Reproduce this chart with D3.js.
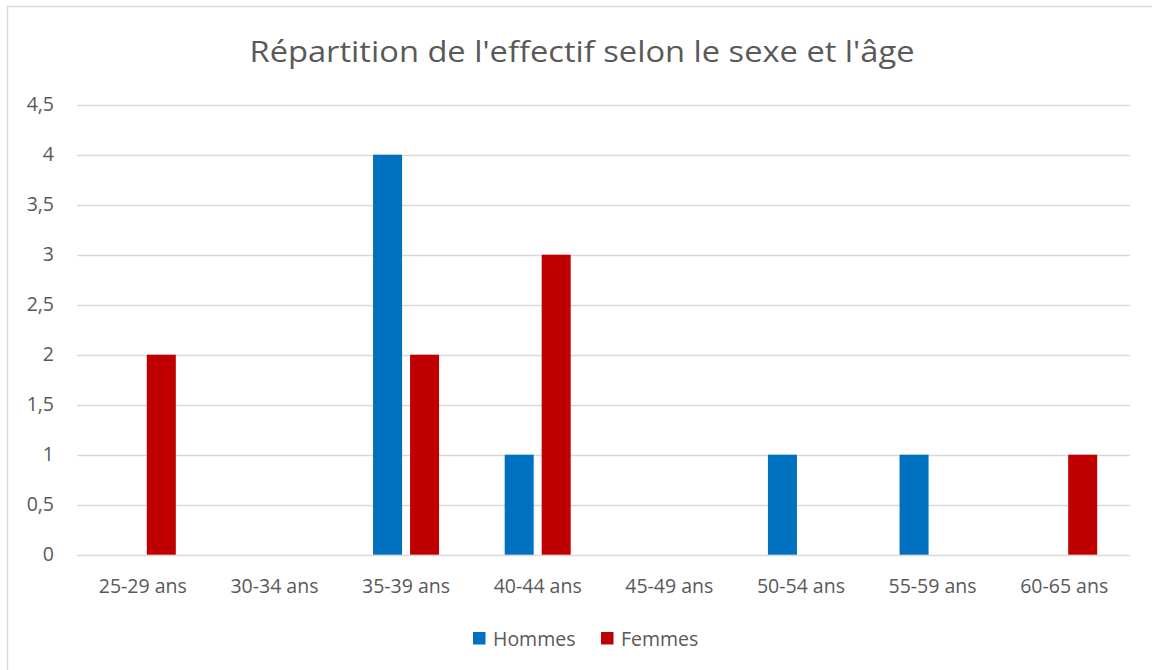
<!DOCTYPE html>
<html>
<head>
<meta charset="utf-8">
<script src="https://cdn.jsdelivr.net/npm/d3@7"></script>
<style>
  body { margin: 0; background: #fff; }
  svg { display: block; }
</style>
</head>
<body>
<svg width="1152" height="670"></svg>
<script>
var svg = d3.select('svg');

// data
var categories = ['25-29 ans', '30-34 ans', '35-39 ans', '40-44 ans', '45-49 ans', '50-54 ans', '55-59 ans', '60-65 ans'];
var seriesNames = ['Hommes', 'Femmes'];
var hommes = [0, 0, 4, 1, 0, 1, 1, 0];
var femmes = [2, 0, 2, 3, 0, 0, 0, 1];
var yTicks = [0, 0.5, 1, 1.5, 2, 2.5, 3, 3.5, 4, 4.5];
var colors = ['#0070C0', '#C00000'];

var font = '"Open Sans", "Noto Sans", sans-serif';
var textColor = '#595959';
var labelSize = 19.5;

// chart frame
svg.append('rect')
    .attr('x', 7.5)
    .attr('y', 6.5)
    .attr('width', 1160)
    .attr('height', 680)
    .attr('fill', 'white')
    .attr('stroke', '#d9d9d9')
    .attr('stroke-width', 1.5);

var plotLeft = 77, plotRight = 1130, plotTop = 104.7, plotBottom = 554.7;

var x0 = d3.scaleBand().domain(categories).range([plotLeft, plotRight]).padding(0);
var x1 = d3.scaleBand().domain(seriesNames)
    .range([x0.bandwidth() / 2 - 33, x0.bandwidth() / 2 + 33])
    .paddingInner(0.216).paddingOuter(0);
var y = d3.scaleLinear().domain([0, 4.5]).range([plotBottom, plotTop]);

// title
svg.append('text')
    .attr('x', 582)
    .attr('y', 62)
    .attr('text-anchor', 'middle')
    .attr('font-family', font)
    .attr('font-size', 29)
    .attr('fill', textColor)
    .attr('textLength', 665)
    .attr('lengthAdjust', 'spacingAndGlyphs')
    .text("Répartition de l'effectif selon le sexe et l'âge");

// gridlines
svg.append('g')
    .selectAll('line')
    .data(yTicks)
    .enter()
    .append('line')
    .attr('x1', plotLeft)
    .attr('x2', plotRight)
    .attr('y1', function(d) { return Math.round(y(d)) + 0.5; })
    .attr('y2', function(d) { return Math.round(y(d)) + 0.5; })
    .attr('stroke', '#d9d9d9')
    .attr('stroke-width', 1.5);

// y axis labels
var yAxis = d3.axisLeft(y)
    .tickValues(yTicks)
    .tickSize(0)
    .tickPadding(0)
    .tickFormat(function(d) { return String(d).replace('.', ','); });

var yg = svg.append('g')
    .attr('transform', 'translate(54,0)')
    .call(yAxis);
yg.select('.domain').remove();
yg.selectAll('text')
    .attr('font-family', font)
    .attr('font-size', labelSize)
    .attr('fill', textColor);

// bars
var rows = categories.map(function(c, i) {
    return { cat: c, values: [hommes[i], femmes[i]] };
});

var groups = svg.append('g')
    .selectAll('g')
    .data(rows)
    .enter()
    .append('g')
    .attr('transform', function(d) { return 'translate(' + x0(d.cat) + ',0)'; });

groups.selectAll('rect')
    .data(function(d) {
        return d.values.map(function(v, k) { return { name: seriesNames[k], value: v, k: k }; })
            .filter(function(e) { return e.value > 0; });
    })
    .enter()
    .append('rect')
    .attr('x', function(d) { return x1(d.name); })
    .attr('y', function(d) { return y(d.value); })
    .attr('width', x1.bandwidth())
    .attr('height', function(d) { return y(0) - y(d.value); })
    .attr('fill', function(d) { return colors[d.k]; });

// x axis labels
var xAxis = d3.axisBottom(x0).tickSize(0).tickPadding(0);
var xg = svg.append('g')
    .attr('transform', 'translate(0,' + (plotBottom + 24) + ')')
    .call(xAxis);
xg.select('.domain').remove();
xg.selectAll('text')
    .attr('font-family', font)
    .attr('font-size', labelSize)
    .attr('fill', textColor);

// legend
var legendX = [473, 601];
var legend = svg.append('g')
    .selectAll('g')
    .data(seriesNames)
    .enter()
    .append('g')
    .attr('transform', function(d, i) { return 'translate(' + legendX[i] + ',632)'; });

legend.append('rect')
    .attr('width', 12.5)
    .attr('height', 12.5)
    .attr('fill', function(d, i) { return colors[i]; });

legend.append('text')
    .attr('x', 20)
    .attr('y', 13.5)
    .attr('font-family', font)
    .attr('font-size', labelSize)
    .attr('fill', textColor)
    .text(function(d) { return d; });
</script>
</body>
</html>
